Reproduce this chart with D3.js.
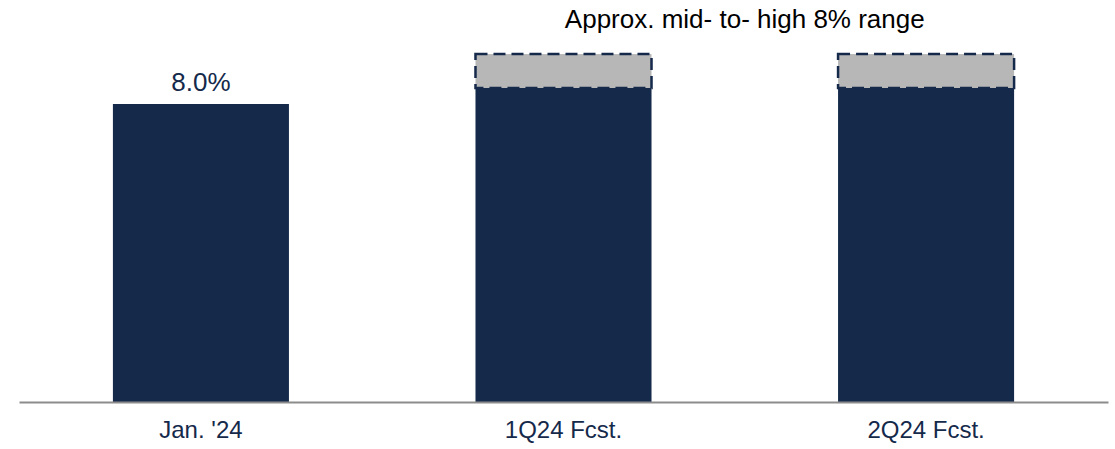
<!DOCTYPE html>
<html>
<head>
<meta charset="utf-8">
<script src="https://cdn.jsdelivr.net/npm/d3@7"></script>
<style>
  html, body { margin: 0; background: #fff; overflow: hidden; }
  svg { display: block; }
  text { font-family: "Liberation Sans", Arial, sans-serif; }
</style>
</head>
<body>
<div id="chart"></div>
<script>
const categories = ["Jan. '24", "1Q24 Fcst.", "2Q24 Fcst."];
const baseValues = [8.0, 8.43, 8.43];        // solid navy bars (%)
const rangeHigh  = [null, 9.34, 9.34];       // top of the dashed range box (%)
const valueLabels = ["8.0%", null, null];
const rangeTitle = "Approx. mid- to- high 8% range";

const width = 1115, height = 449;
const margin = { top: 30, right: 7, bottom: 47, left: 19 };
const innerWidth  = width - margin.left - margin.right;
const innerHeight = height - margin.top - margin.bottom;

const svg = d3.select("#chart").append("svg")
  .attr("width", width)
  .attr("height", height);

const g = svg.append("g")
  .attr("transform", `translate(${margin.left}, ${margin.top})`);

const xScale = d3.scaleBand()
  .domain(categories)
  .range([0, innerWidth])
  .paddingInner(0.5145)
  .paddingOuter(0.259);

const yScale = d3.scaleLinear()
  .domain([0, 10])
  .range([innerHeight, innerHeight - 372.5]);

// solid bars
g.selectAll("rect.bar")
  .data(categories)
  .join("rect")
    .attr("class", "bar")
    .attr("x", d => xScale(d))
    .attr("width", xScale.bandwidth())
    .attr("y", (d, i) => yScale(baseValues[i]))
    .attr("height", (d, i) => innerHeight - yScale(baseValues[i]))
    .attr("fill", "#15294b");

// dashed range boxes
const rangeIdx = categories.map((d, i) => i).filter(i => rangeHigh[i] != null);
g.selectAll("rect.range")
  .data(rangeIdx)
  .join("rect")
    .attr("class", "range")
    .attr("x", i => xScale(categories[i]))
    .attr("width", xScale.bandwidth())
    .attr("y", i => yScale(rangeHigh[i]))
    .attr("height", i => yScale(baseValues[i]) - yScale(rangeHigh[i]))
    .attr("fill", "#b7b7b7")
    .attr("stroke", "#15294b")
    .attr("stroke-width", 2.5)
    .attr("stroke-dasharray", "12,6");

// value label
g.selectAll("text.val")
  .data(categories.map((d, i) => i).filter(i => valueLabels[i]))
  .join("text")
    .attr("class", "val")
    .attr("x", i => xScale(categories[i]) + xScale.bandwidth() / 2)
    .attr("y", i => yScale(baseValues[i]) - 13)
    .attr("text-anchor", "middle")
    .style("font-size", "26px")
    .style("fill", "#15294b")
    .text(i => valueLabels[i]);

// range title over the forecast bars
const x1 = xScale(categories[1]), x2 = xScale(categories[2]) + xScale.bandwidth();
g.append("text")
  .attr("x", (x1 + x2) / 2)
  .attr("y", -2)
  .attr("text-anchor", "middle")
  .style("font-size", "26px")
  .style("fill", "#000")
  .text(rangeTitle);

// x axis
const xAxis = g.append("g")
  .attr("transform", `translate(0, ${innerHeight})`)
  .call(d3.axisBottom(xScale).tickSize(0).tickPadding(19));
xAxis.select(".domain").attr("stroke", "#8c8c8c").attr("stroke-width", 2);
xAxis.selectAll("text")
  .style("font-size", "24px")
  .style("font-family", "\"Liberation Sans\", Arial, sans-serif")
  .style("fill", "#15294b");
</script>
</body>
</html>
